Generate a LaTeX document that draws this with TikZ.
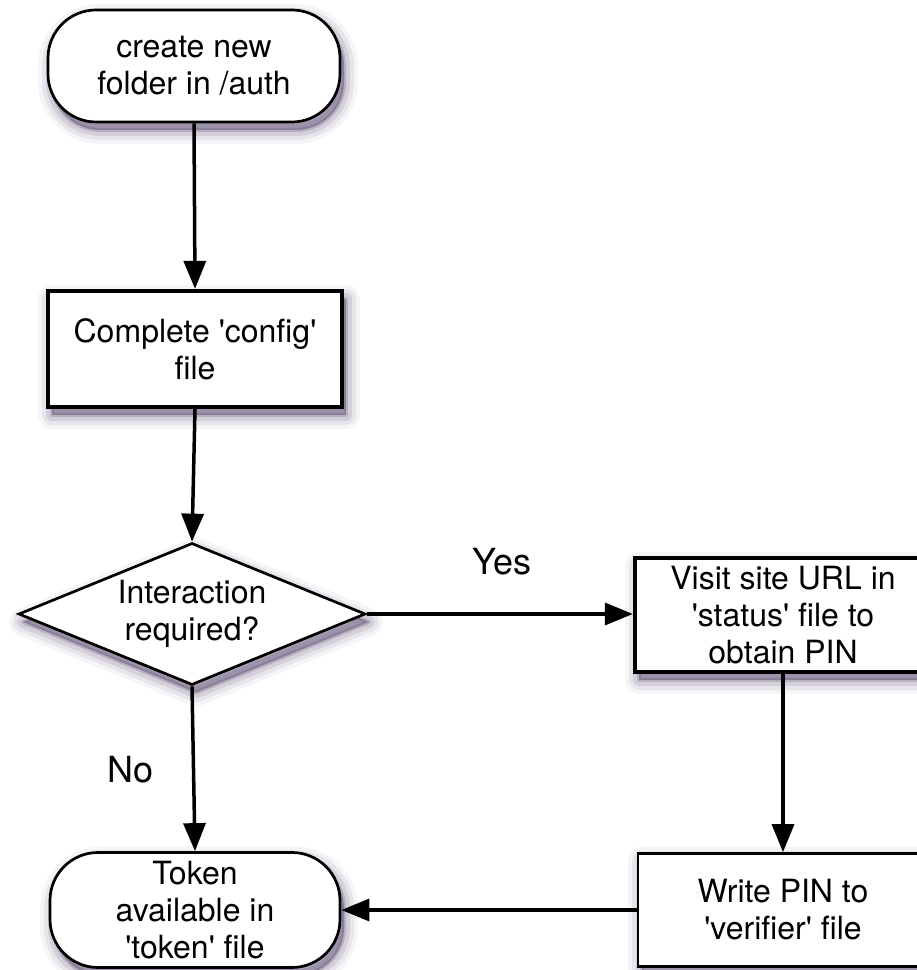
\documentclass[tikz,border=0pt]{standalone}
\usepackage{fontspec}
\setmainfont{TeX Gyre Heros}
\usetikzlibrary{shapes.geometric,arrows.meta,shadows}
\definecolor{shc}{RGB}{66,50,92}
\newcommand{\sq}{\textquotesingle}
\tikzset{
  softshadow/.style={
    general shadow={shadow xshift=4pt,shadow yshift=-8pt,fill=shc,draw=shc,line width=28pt,opacity=0.05,line join=round},
    general shadow={shadow xshift=4pt,shadow yshift=-8pt,fill=shc,draw=shc,line width=20pt,opacity=0.08,line join=round},
    general shadow={shadow xshift=4pt,shadow yshift=-8pt,fill=shc,draw=shc,line width=12pt,opacity=0.12,line join=round},
    general shadow={shadow xshift=4pt,shadow yshift=-8pt,fill=shc,draw=shc,line width=4pt,opacity=0.2,line join=round}
  },
  base/.style={fill=white,draw=black,align=center,inner sep=0pt,softshadow,
    font=\fontsize{32}{37}\selectfont},
  terminal/.style={base,rectangle,rounded corners=48pt,line width=2.7pt},
  procbox/.style={base,rectangle,line width=2.7pt},
  thickbox/.style={procbox,line width=4.2pt},
  decision/.style={base,diamond,aspect=2.44,line width=2.7pt},
  conn/.style={line width=3.5pt,-{Triangle[length=28pt,width=22pt]}},
  lbl/.style={font=\fontsize{36}{40}\selectfont}
}
\begin{document}
\begin{tikzpicture}[x=1pt,y=1pt]
\useasboundingbox (0,0) rectangle (917,970);
\node[terminal,minimum width=292pt,minimum height=112pt] (start) at (194,904) {create new\\folder in /auth};
\node[thickbox,minimum width=294pt,minimum height=116pt] (config) at (195,621) {Complete \sq config\sq\\file};
\node[decision,minimum width=347pt,minimum height=142pt] (ask) at (192,356) {Interaction\\required?};
\node[terminal,minimum width=290pt,minimum height=115pt] (token) at (195,60) {Token\\available in\\\sq token\sq{} file};
\node[thickbox,minimum width=296pt,minimum height=114pt] (visit) at (783,355) {Visit site URL in\\\sq status\sq{} file to\\obtain PIN};
\node[procbox,minimum width=290pt,minimum height=113pt] (write) at (783,60) {Write PIN to\\\sq verifier\sq{} file};
\node[lbl] (yes) at (502,408) {Yes};
\node[lbl] (no) at (131,200) {No};
\draw[conn] (start.south) -- (config.north);
\draw[conn] (config.south) -- (ask.north);
\draw[conn] (ask.east) -- (ask.east -| visit.west);
\draw[conn] (ask.south) -- (token.north);
\draw[conn] (visit.south) -- (write.north);
\draw[conn] (write.west) -- (token.east);
\end{tikzpicture}
\end{document}
